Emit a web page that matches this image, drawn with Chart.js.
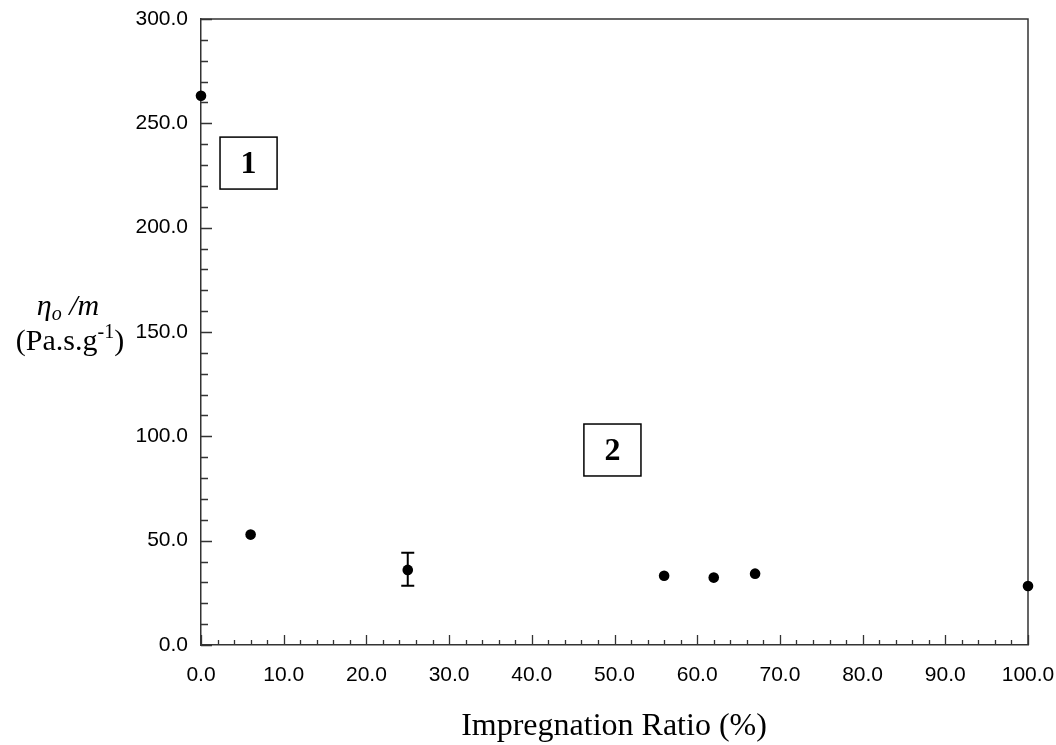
<!DOCTYPE html>
<html>
<head>
<meta charset="utf-8">
<script src="https://cdn.jsdelivr.net/npm/chart.js@4"></script>
<style>
html,body{margin:0;padding:0;background:#fff;}
#wrap{width:1056px;height:745px;position:relative;}
</style>
</head>
<body>
<div id="wrap"><canvas id="c" width="1056" height="745"></canvas></div>
<script>
// ---- data ----
const impregnationRatio = [0, 6, 25, 56, 62, 67, 100];
const viscosityPerMass = [263.2, 52.9, 36.0, 33.2, 32.3, 34.2, 28.3];
const errorLow  = [null, null, 28.4, null, null, null, null];
const errorHigh = [null, null, 44.2, null, null, null, null];
const xTickValues = [0, 10, 20, 30, 40, 50, 60, 70, 80, 90, 100];
const yTickValues = [0, 50, 100, 150, 200, 250, 300];
const xMinorStep = 2;
const yMinorStep = 10;
const regionLabels = ['1', '2'];
const regionBoxes = [
  {x0: 2.3, x1: 9.2, y0: 218.5, y1: 243.4},
  {x0: 46.3, x1: 53.2, y0: 81, y1: 105.9}
];

const points = impregnationRatio.map((x, i) => ({x: x, y: viscosityPerMass[i]}));

const SANS = '"Liberation Sans", Arial, sans-serif';
const SERIF = '"Liberation Serif", "Times New Roman", serif';

const decorPlugin = {
  id: 'decor',
  beforeDatasetsDraw(chart) {
    const {ctx, chartArea: a, scales: {x, y}} = chart;
    ctx.save();
    // frame top & right
    ctx.strokeStyle = '#333';
    ctx.lineWidth = 1.5;
    ctx.beginPath();
    ctx.moveTo(a.left, a.top);
    ctx.lineTo(a.right, a.top);
    ctx.lineTo(a.right, a.bottom);
    ctx.stroke();
    // ticks
    ctx.lineWidth = 1.3;
    ctx.strokeStyle = '#333';
    ctx.beginPath();
    for (let v = x.min; v <= x.max + 1e-9; v += xMinorStep) {
      const px = Math.round(x.getPixelForValue(v)) + 0.5;
      const major = xTickValues.includes(Math.round(v));
      ctx.moveTo(px, a.bottom);
      ctx.lineTo(px, a.bottom - (major ? 10 : 5));
    }
    for (let v = y.min; v <= y.max + 1e-9; v += yMinorStep) {
      const py = Math.round(y.getPixelForValue(v)) + 0.5;
      const major = yTickValues.includes(Math.round(v));
      ctx.moveTo(a.left, py);
      ctx.lineTo(a.left + (major ? 11 : 7), py);
    }
    ctx.stroke();
    // error bars
    ctx.strokeStyle = '#000';
    ctx.lineWidth = 2;
    ctx.beginPath();
    impregnationRatio.forEach((xv, i) => {
      if (errorLow[i] == null) return;
      const px = x.getPixelForValue(xv);
      const pl = y.getPixelForValue(errorLow[i]);
      const ph = y.getPixelForValue(errorHigh[i]);
      ctx.moveTo(px, pl); ctx.lineTo(px, ph);
      ctx.moveTo(px - 6.5, pl); ctx.lineTo(px + 6.5, pl);
      ctx.moveTo(px - 6.5, ph); ctx.lineTo(px + 6.5, ph);
    });
    ctx.stroke();
    // region boxes
    ctx.lineWidth = 1.5;
    ctx.fillStyle = '#000';
    ctx.font = 'bold 32px ' + SERIF;
    ctx.textAlign = 'center';
    ctx.textBaseline = 'middle';
    regionBoxes.forEach((b, i) => {
      const l = x.getPixelForValue(b.x0), r = x.getPixelForValue(b.x1);
      const t = y.getPixelForValue(b.y1), bt = y.getPixelForValue(b.y0);
      ctx.strokeRect(l, t, r - l, bt - t);
      ctx.fillText(regionLabels[i], (l + r) / 2, (t + bt) / 2 + 2);
    });
    ctx.restore();
  },
  afterDraw(chart) {
    const {ctx} = chart;
    ctx.save();
    ctx.fillStyle = '#000';
    // x title
    ctx.font = '32px ' + SERIF;
    ctx.textAlign = 'center';
    ctx.textBaseline = 'alphabetic';
    ctx.fillText('Impregnation Ratio (%)', 614, 735);
    // y title line 1: η_o /m
    const parts1 = [
      {t: 'η', f: 'italic 30px ' + SERIF, dy: 0},
      {t: 'o', f: 'italic 20px ' + SERIF, dy: 5},
      {t: ' /m', f: 'italic 30px ' + SERIF, dy: 0}
    ];
    drawRich(ctx, parts1, 68, 315);
    const parts2 = [
      {t: '(Pa.s.g', f: '30px ' + SERIF, dy: 0},
      {t: '-1', f: '20px ' + SERIF, dy: -12},
      {t: ')', f: '30px ' + SERIF, dy: 0}
    ];
    drawRich(ctx, parts2, 70, 350);
    ctx.restore();
  }
};

function drawRich(ctx, parts, cx, baseline) {
  let w = 0;
  parts.forEach(p => { ctx.font = p.f; p.w = ctx.measureText(p.t).width; w += p.w; });
  let xx = cx - w / 2;
  ctx.textAlign = 'left';
  ctx.textBaseline = 'alphabetic';
  parts.forEach(p => { ctx.font = p.f; ctx.fillText(p.t, xx, baseline + p.dy); xx += p.w; });
}

function zeroPad(s) {
  s.paddingLeft = 0; s.paddingRight = 0; s.paddingTop = 0; s.paddingBottom = 0;
}

new Chart(document.getElementById('c'), {
  type: 'scatter',
  data: {
    datasets: [{
      data: points,
      pointStyle: 'circle',
      pointRadius: 5.3,
      pointHoverRadius: 5.3,
      backgroundColor: '#000',
      borderColor: '#000',
      borderWidth: 0,
      clip: false
    }]
  },
  options: {
    responsive: false,
    animation: false,
    events: [],
    layout: {padding: {left: 0, top: 19, right: 28, bottom: 0}, autoPadding: false},
    plugins: {legend: {display: false}, tooltip: {enabled: false}},
    scales: {
      x: {
        type: 'linear', min: 0, max: 100,
        afterBuildTicks: s => { s.ticks = xTickValues.map(v => ({value: v})); },
        afterFit: s => { s.height = 100; zeroPad(s); },
        grid: {display: true, drawOnChartArea: false, drawTicks: false, color: 'transparent'},
        border: {display: true, color: '#333', width: 1.5},
        ticks: {
          color: '#000', padding: 18, maxRotation: 0,
          font: {family: SANS, size: 21},
          callback: v => Number(v).toFixed(1)
        }
      },
      y: {
        type: 'linear', min: 0, max: 300,
        afterBuildTicks: s => { s.ticks = yTickValues.map(v => ({value: v})); },
        afterFit: s => { s.width = 201; zeroPad(s); },
        grid: {display: true, drawOnChartArea: false, drawTicks: false, color: 'transparent'},
        border: {display: true, color: '#333', width: 1.5},
        ticks: {
          color: '#000', padding: 13,
          font: {family: SANS, size: 21},
          callback: v => Number(v).toFixed(1)
        }
      }
    }
  },
  plugins: [decorPlugin]
});
</script>
</body>
</html>
